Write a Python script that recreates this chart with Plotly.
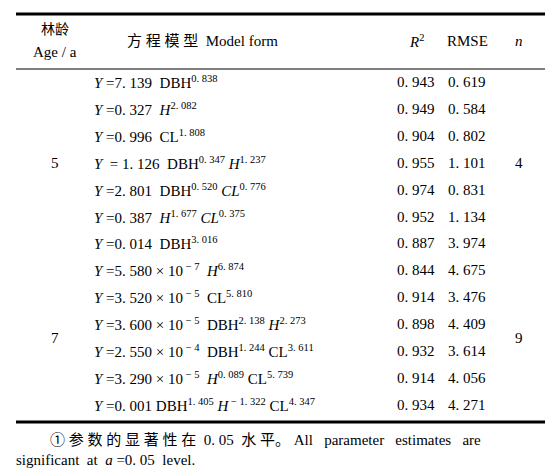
import plotly.graph_objects as go

ages = ["5", "7"]
ns = ["4", "9"]
models = [
    "<i>Y</i> =7. 139  DBH<sup>0. 838</sup>",
    "<i>Y</i> =0. 327  <i>H</i><sup>2. 082</sup>",
    "<i>Y</i> =0. 996  CL<sup>1. 808</sup>",
    "<i>Y</i>  = 1. 126  DBH<sup>0. 347</sup> <i>H</i><sup>1. 237</sup>",
    "<i>Y</i> =2. 801  DBH<sup>0. 520</sup> <i>CL</i><sup>0. 776</sup>",
    "<i>Y</i> =0. 387  <i>H</i><sup>1. 677</sup> <i>CL</i><sup>0. 375</sup>",
    "<i>Y</i> =0. 014  DBH<sup>3. 016</sup>",
    "<i>Y</i> =5. 580 × 10<sup> − 7</sup>  <i>H</i><sup>6. 874</sup>",
    "<i>Y</i> =3. 520 × 10<sup> − 5</sup>  CL<sup>5. 810</sup>",
    "<i>Y</i> =3. 600 × 10<sup> − 5</sup>  DBH<sup>2. 138</sup> <i>H</i><sup>2. 273</sup>",
    "<i>Y</i> =2. 550 × 10<sup> − 4</sup>  DBH<sup>1. 244</sup> CL<sup>3. 611</sup>",
    "<i>Y</i> =3. 290 × 10<sup> − 5</sup>  <i>H</i><sup>0. 089</sup> CL<sup>5. 739</sup>",
    "<i>Y</i> =0. 001 DBH<sup>1. 405</sup> <i>H</i><sup> − 1. 322</sup> CL<sup>4. 347</sup>",
]
r2 = ["0. 943", "0. 949", "0. 904", "0. 955", "0. 974", "0. 952", "0. 887",
      "0. 844", "0. 914", "0. 898", "0. 932", "0. 914", "0. 934"]
rmse = ["0. 619", "0. 584", "0. 802", "1. 101", "0. 831", "1. 134", "3. 974",
        "4. 675", "3. 476", "4. 409", "3. 614", "4. 056", "4. 271"]

F = "Liberation Serif, Times New Roman, Noto Sans CJK SC, serif"
anns = []
def t(x, y, s, anchor="center", size=15):
    anns.append(dict(x=x, y=y, text=s, showarrow=False, xanchor=anchor, yanchor="middle",
                     font=dict(family=F, size=size, color="black")))

t(47, 21, "林龄", size=14)
t(47, 44, "Age / a")
t(194, 33, "方 程 模 型  Model form")
t(408, 33, "<i>R</i><sup>2</sup>")
t(459, 33, "RMSE")
t(511, 33, "<i>n</i>")
y0, dy = 74, 26.9
for i in range(13):
    y = y0 + i * dy
    t(84, y, models[i], anchor="left")
    t(408, y, r2[i])
    t(459, y, rmse[i])
t(47, y0 + 3 * dy, ages[0]); t(511, y0 + 3 * dy, ns[0])
t(47, y0 + 9.5 * dy, ages[1]); t(511, y0 + 9.5 * dy, ns[1])
t(40, 432, "① 参 数 的 显 著 性 在  0. 05  水 平。 All   parameter   estimates   are", anchor="left")
t(6, 452, "significant  at  <i>a</i> =0. 05  level.", anchor="left")

shapes = []
for yy, w in [(6, 3), (61, 1), (414, 3)]:
    shapes.append(dict(type="line", xref="x", yref="y", x0=8, x1=545, y0=yy, y1=yy,
                       line=dict(width=w, color="black"), layer="above"))

fig = go.Figure(go.Scatter(x=[0, 553], y=[0, 469], mode="markers",
                           marker=dict(opacity=0), hoverinfo="skip"))
fig.update_layout(width=553, height=469, margin=dict(l=0, r=0, t=0, b=0),
                  paper_bgcolor="white", plot_bgcolor="white",
                  xaxis=dict(range=[0, 553], visible=False, fixedrange=True),
                  yaxis=dict(range=[469, 0], visible=False, fixedrange=True),
                  annotations=anns, shapes=shapes, showlegend=False)
fig.write_html("out.html")
